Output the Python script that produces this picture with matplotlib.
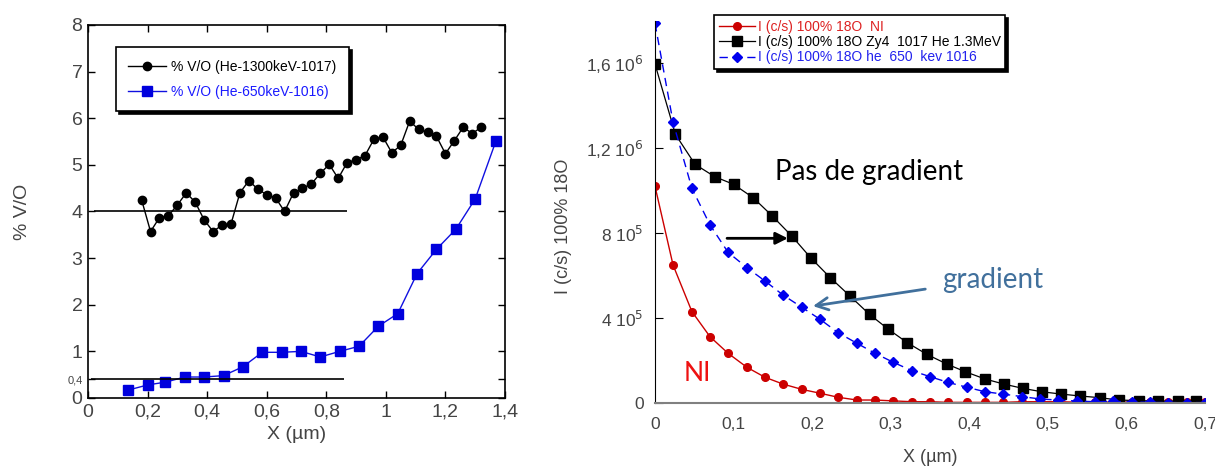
import numpy as np
import matplotlib
matplotlib.use('Agg')
import matplotlib.pyplot as plt

plt.rcParams['font.family'] = ['Liberation Sans', 'DejaVu Sans']

# left panel : % V/O versus depth
x_1017 = [0.18, 0.21, 0.24, 0.27, 0.30, 0.33, 0.36, 0.39, 0.42, 0.45, 0.48, 0.51, 0.54,
          0.57, 0.60, 0.63, 0.66, 0.69, 0.72, 0.75, 0.78, 0.81, 0.84, 0.87, 0.90, 0.93,
          0.96, 0.99, 1.02, 1.05, 1.08, 1.11, 1.14, 1.17, 1.20, 1.23, 1.26, 1.29, 1.32]
vo_1017 = [4.25, 3.57, 3.87, 3.91, 4.14, 4.40, 4.20, 3.82, 3.57, 3.71, 3.73, 4.40, 4.66,
           4.48, 4.36, 4.29, 4.00, 4.40, 4.50, 4.59, 4.82, 5.01, 4.71, 5.05, 5.11, 5.20,
           5.55, 5.60, 5.26, 5.42, 5.94, 5.76, 5.70, 5.61, 5.24, 5.52, 5.81, 5.67, 5.81]
x_1016 = [0.135, 0.20, 0.26, 0.325, 0.39, 0.455, 0.52, 0.585, 0.65, 0.715, 0.78, 0.845,
          0.91, 0.975, 1.04, 1.105, 1.17, 1.235, 1.30, 1.37]
vo_1016 = [0.17, 0.28, 0.34, 0.45, 0.45, 0.48, 0.67, 0.98, 0.98, 1.00, 0.88, 1.00,
           1.11, 1.54, 1.81, 2.67, 3.19, 3.62, 4.27, 5.52]
ref_levels = [4.0, 0.4]
ref_start = [0.02, 0.01]
ref_end = [0.87, 0.86]

left_xticks = [0, 0.2, 0.4, 0.6, 0.8, 1.0, 1.2, 1.4]
left_xlabels = ['0', '0,2', '0,4', '0,6', '0,8', '1', '1,2', '1,4']
left_yticks = [0, 0.4, 1, 2, 3, 4, 5, 6, 7, 8]
left_ylabels = ['0', '0,4', '1', '2', '3', '4', '5', '6', '7', '8']

# right panel : I (c/s) 100% 18O versus depth
x_ni = [0, 0.023, 0.047, 0.07, 0.093, 0.117, 0.14, 0.163, 0.187, 0.21, 0.233, 0.257,
        0.28, 0.303, 0.327, 0.35, 0.373, 0.397, 0.42, 0.443, 0.467, 0.49, 0.513, 0.537,
        0.56, 0.583, 0.607, 0.63, 0.653, 0.677, 0.7]
i_ni = [1.02e6, 6.49e5, 4.30e5, 3.12e5, 2.34e5, 1.68e5, 1.21e5, 8.9e4, 6.4e4, 4.6e4,
        2.7e4, 1.4e4, 1.4e4, 1.0e4, 6e3, 6e3, 3e3, 3e3, 3e3, 3e3, 6e3, 6e3, 6e3, 4e3,
        3e3, 5e3, 4e3, 3e3, 4e3, 3e3, 3e3]
x_1017r = [0, 0.026, 0.051, 0.076, 0.100, 0.125, 0.149, 0.174, 0.198, 0.223, 0.248,
           0.273, 0.297, 0.321, 0.346, 0.371, 0.395, 0.42, 0.444, 0.468, 0.492, 0.517,
           0.541, 0.566, 0.59, 0.616, 0.64, 0.665, 0.689]
i_1017 = [1.595e6, 1.264e6, 1.123e6, 1.065e6, 1.029e6, 9.66e5, 8.81e5, 7.86e5, 6.84e5,
          5.90e5, 5.04e5, 4.17e5, 3.47e5, 2.84e5, 2.29e5, 1.84e5, 1.47e5, 1.13e5, 8.9e4,
          6.9e4, 5.3e4, 4.2e4, 3.3e4, 2.5e4, 1.4e4, 1.1e4, 9e3, 9e3, 9e3]
x_1016r = x_ni
i_1016 = [1.787e6, 1.321e6, 1.010e6, 8.38e5, 7.09e5, 6.37e5, 5.74e5, 5.08e5, 4.50e5,
          3.94e5, 3.31e5, 2.81e5, 2.34e5, 1.92e5, 1.52e5, 1.24e5, 9.7e4, 7.4e4, 5.3e4,
          4.2e4, 3.0e4, 1.9e4, 1.4e4, 9e3, 6e3, 8e3, 5e3, 3e3, 2e3, 2e3, 2e3]

right_xticks = [0, 0.1, 0.2, 0.3, 0.4, 0.5, 0.6, 0.7]
right_xlabels = ['0', '0,1', '0,2', '0,3', '0,4', '0,5', '0,6', '0,7']
right_yticks = [0, 4e5, 8e5, 1.2e6, 1.6e6]
right_ylabels = ['0', r'4 10$^5$', r'8 10$^5$', r'1,2 10$^6$', r'1,6 10$^6$']

tick_col = '#444444'

fig = plt.figure(figsize=(12.15, 4.68), dpi=100)

# ---- left plot
ax1 = fig.add_axes([88/1215, 1-398/468, 417/1215, 373/468])
ax1.plot(x_1017, vo_1017, '-o', color='black', lw=1, ms=6,
         label='% V/O (He-1300keV-1017)')
ax1.plot(x_1016, vo_1016, '-s', color='#1010e0', lw=1, ms=7, mfc='#0000dd',
         mec='#0000dd', label='% V/O (He-650keV-1016)')
for lev, a, b in zip(ref_levels, ref_start, ref_end):
    ax1.hlines(lev, a, b, color='black', lw=1.2)
ax1.set_xlim(0, 1.4)
ax1.set_ylim(0, 8)
ax1.set_xticks(left_xticks)
ax1.set_xticklabels(left_xlabels)
ax1.set_yticks(left_yticks)
ax1.set_yticklabels(left_ylabels)
ax1.tick_params(direction='in', top=True, right=True, length=5, width=1,
                labelsize=14, labelcolor=tick_col, pad=4)
ax1.get_yticklabels()[1].set_fontsize(8)
for s in ax1.spines.values():
    s.set_linewidth(1.2)
ax1.set_xlabel('X (µm)', fontsize=14, color=tick_col, labelpad=4)
ax1.set_ylabel('% V/O', fontsize=14, color=tick_col, labelpad=26)
leg1 = ax1.legend(loc='upper left', bbox_to_anchor=(0.067, 0.941), borderaxespad=0,
                  fontsize=10, fancybox=False, edgecolor='black', framealpha=1,
                  shadow={'color': 'black', 'alpha': 1}, labelcolor=['black', '#1a1aff'],
                  handlelength=2.7, handletextpad=0.4, borderpad=0.9, labelspacing=0.8)
leg1.get_frame().set_linewidth(1.2)

# ---- right plot
ax2 = fig.add_axes([655/1215, 1-403/468, 550/1215, 382.5/468])
ax2.plot(x_ni, i_ni, '-o', color='#cc0000', lw=1, ms=5.5,
         label='I (c/s) 100% 18O  NI')
ax2.plot(x_1017r, i_1017, '-s', color='black', lw=0.9, ms=7,
         label='I (c/s) 100% 18O Zy4  1017 He 1.3MeV')
ax2.plot(x_1016r, i_1016, '--D', color='#0000ee', lw=1, ms=5,
         dashes=(6, 4), label='I (c/s) 100% 18O he  650  kev 1016')
ax2.set_xlim(0, 0.7)
ax2.set_ylim(0, 1.8e6)
ax2.set_xticks(right_xticks)
ax2.set_xticklabels(right_xlabels)
ax2.set_yticks(right_yticks)
ax2.set_yticklabels(right_ylabels)
ax2.tick_params(axis='y', direction='in', length=6, labelsize=12.5,
                labelcolor=tick_col, pad=8)
ax2.tick_params(axis='x', direction='in', length=0, labelsize=12.5,
                labelcolor=tick_col, pad=10)
ax2.spines['top'].set_visible(False)
ax2.spines['right'].set_visible(False)
ax2.spines['bottom'].set_color('#808080')
ax2.spines['bottom'].set_linewidth(1.5)
ax2.set_xlabel('X (µm)', fontsize=13, color=tick_col, labelpad=12)
ax2.set_ylabel('I (c/s) 100% 18O', fontsize=13, color=tick_col)
ax2.yaxis.set_label_coords(-0.151, 0.463)
leg2 = ax2.legend(loc='upper left', bbox_to_anchor=(0.107, 1.015), borderaxespad=0,
                  fontsize=10, fancybox=False, edgecolor='black', framealpha=1,
                  shadow={'color': 'black', 'alpha': 1},
                  labelcolor=['#dd2222', 'black', '#2222ee'],
                  handlelength=2.6, borderpad=0.35, labelspacing=0.1, handletextpad=0.2)
leg2.get_frame().set_linewidth(1.2)

# annotations
ax2.text(0.153, 1.087e6, 'Pas de gradient', fontsize=20, family='Lato',
         color='black', va='center', ha='left')
ax2.text(0.366, 5.79e5, 'gradient', fontsize=20, family='Lato',
         color='#41709c', va='center', ha='left')
ax2.text(0.036, 1.41e5, 'NI', fontsize=19, family='Lato',
         color='#ee1111', va='center', ha='left')
ax2.annotate('', xy=(0.169, 7.75e5), xytext=(0.0917, 7.75e5),
             arrowprops=dict(arrowstyle='-|>', color='black', lw=2,
                             mutation_scale=18, shrinkA=0, shrinkB=0))
ax2.annotate('', xy=(0.201, 4.56e5), xytext=(0.344, 5.36e5),
             arrowprops=dict(arrowstyle='->', color='#41709c', lw=2,
                             mutation_scale=22, shrinkA=0, shrinkB=0))

fig.savefig('out.png', dpi=100)
